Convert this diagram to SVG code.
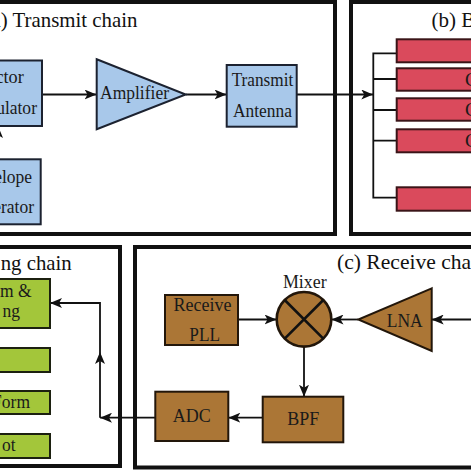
<svg xmlns="http://www.w3.org/2000/svg" width="471" height="471" viewBox="0 0 471 471">
<defs>
<marker id="ah" viewBox="0 0 12 10" refX="12" refY="5" markerWidth="12" markerHeight="10" markerUnits="userSpaceOnUse" orient="auto">
<path d="M0,0 L12,5 L0,10 L3,5 z" fill="#111"/>
</marker>
<style>
.panel{fill:#fff;stroke:#111;stroke-width:4}
.title{font-family:"Liberation Serif",serif;font-size:21px;fill:#111}
.lbl{font-family:"Liberation Serif",serif;font-size:19px;fill:#1a1a1a;text-anchor:middle}
.lble{font-family:"Liberation Serif",serif;font-size:19px;fill:#1a1a1a;text-anchor:end}
.lbls{font-family:"Liberation Serif",serif;font-size:19px;fill:#1a1a1a}
.blue{fill:#a8c8ea;stroke:#1c2230;stroke-width:2}
.red{fill:#da4a5c;stroke:#3a1418;stroke-width:2}
.green{fill:#a3c63a;stroke:#1c2010;stroke-width:2}
.brown{fill:#ab7636;stroke:#22160a;stroke-width:2}
.wire{fill:none;stroke:#111;stroke-width:1.8}
.arrow{fill:none;stroke:#111;stroke-width:1.8;marker-end:url(#ah)}
</style>
</defs>
<rect width="471" height="471" fill="#fff"/>
<g id="panel-a">
<rect class="panel" x="-20" y="2" width="355" height="232"/>
<text class="title" x="-15.5" y="27" textLength="153" lengthAdjust="spacingAndGlyphs">(a) Transmit chain</text>
</g>
<g id="panel-b">
<rect class="panel" x="351" y="2" width="200" height="232"/>
<text class="title" x="431.5" y="27">(b) B</text>
</g>
<g id="panel-d">
<rect class="panel" x="-20" y="247" width="140" height="219"/>
<text class="title" x="71.7" y="270" text-anchor="end" textLength="71" lengthAdjust="spacingAndGlyphs">ng chain</text>
</g>
<g id="panel-c">
<rect class="panel" x="135" y="247" width="400" height="220.5"/>
<text class="title" x="337" y="268.5" textLength="151" lengthAdjust="spacingAndGlyphs">(c) Receive chain</text>
</g>
<g id="connectors">
<line class="arrow" x1="-2" y1="159" x2="-2" y2="126"/>
<line class="arrow" x1="42" y1="94.5" x2="96.5" y2="94.5"/>
<line class="arrow" x1="185.7" y1="94.5" x2="226.5" y2="94.5"/>
<line class="arrow" x1="296.7" y1="94.5" x2="373.3" y2="94.5"/>
<path class="wire" d="M397,53.3 H373.3 V197.7 H397 M373.3,79 H397 M373.3,110 H397 M373.3,140.7 H397"/>
<line class="arrow" x1="238" y1="319.5" x2="276.5" y2="319.5"/>
<line class="arrow" x1="358.3" y1="319.5" x2="331.5" y2="319.5"/>
<line class="arrow" x1="480" y1="319.5" x2="431.7" y2="319.5"/>
<line class="arrow" x1="304" y1="347" x2="304" y2="396.7"/>
<line class="arrow" x1="262.7" y1="417.7" x2="228.3" y2="417.7"/>
<line class="arrow" x1="155.3" y1="417.7" x2="100" y2="417.7"/>
<line class="arrow" x1="100" y1="417.7" x2="100" y2="352"/>
<path class="arrow" d="M100,352 V303 H50"/>
</g>
<g id="vector-modulator">
<rect class="blue" x="-42" y="60.5" width="84" height="65.5"/>
<text class="lbl" x="0" y="83.3" textLength="47.6" lengthAdjust="spacingAndGlyphs">Vector</text>
<text class="lbl" x="0" y="114" textLength="73.9" lengthAdjust="spacingAndGlyphs">Modulator</text>
</g>
<g id="envelope-generator">
<rect class="blue" x="-43" y="159.3" width="83.7" height="65"/>
<text class="lbl" x="-1" y="182.7" textLength="66" lengthAdjust="spacingAndGlyphs">Envelope</text>
<text class="lbl" x="-1" y="212.7" textLength="70" lengthAdjust="spacingAndGlyphs">Generator</text>
</g>
<g id="amplifier">
<polygon class="blue" points="96.7,59.3 185.7,94.5 96.7,129.3"/>
<text class="lbl" x="134.5" y="99" textLength="69" lengthAdjust="spacingAndGlyphs">Amplifier</text>
</g>
<g id="transmit-antenna">
<rect class="blue" x="226.7" y="65" width="70" height="61.7"/>
<text class="lbl" x="262.5" y="86" textLength="61.6" lengthAdjust="spacingAndGlyphs">Transmit</text>
<text class="lbl" x="262.5" y="116.7" textLength="59" lengthAdjust="spacingAndGlyphs">Antenna</text>
</g>
<g id="bar1"><rect class="red" x="396.7" y="39.3" width="100" height="23"/></g>
<g id="bar2"><rect class="red" x="396.7" y="68.3" width="100" height="22.4"/><text class="lbls" x="465" y="85.5">C</text></g>
<g id="bar3"><rect class="red" x="396.7" y="98.3" width="100" height="22.4"/><text class="lbls" x="465" y="115.5">C</text></g>
<g id="bar4"><rect class="red" x="396.7" y="129.3" width="100" height="23"/><text class="lbls" x="465" y="146.5">C</text></g>
<g id="bar5"><rect class="red" x="396.7" y="187.3" width="100" height="23.4"/></g>
<g id="proc1">
<rect class="green" x="-60" y="279" width="110" height="49"/>
<text class="lble" x="31.7" y="296.7" textLength="31.6" lengthAdjust="spacingAndGlyphs">m &amp;</text>
<text class="lble" x="20" y="316.7" textLength="17.5" lengthAdjust="spacingAndGlyphs">ng</text>
</g>
<g id="proc2"><rect class="green" x="-60" y="348" width="110" height="24"/></g>
<g id="proc3">
<rect class="green" x="-60" y="391" width="110" height="23"/>
<text class="lble" x="30" y="407.7" textLength="37.9" lengthAdjust="spacingAndGlyphs">Form</text>
</g>
<g id="proc4">
<rect class="green" x="-60" y="434" width="110" height="24"/>
<text class="lble" x="15.7" y="451" textLength="13.6" lengthAdjust="spacingAndGlyphs">ot</text>
</g>
<g id="receive-pll">
<rect class="brown" x="165" y="295" width="73" height="50"/>
<text class="lbl" x="202.5" y="310.5" textLength="58" lengthAdjust="spacingAndGlyphs">Receive</text>
<text class="lbl" x="204.7" y="341" textLength="30.7" lengthAdjust="spacingAndGlyphs">PLL</text>
</g>
<g id="mixer">
<circle class="brown" cx="304" cy="319.3" r="27.3" style="stroke-width:2.6"/>
<path d="M284.7,300 L323.3,338.6 M323.3,300 L284.7,338.6" stroke="#111" stroke-width="2.6"/>
<text class="lbl" x="304.8" y="288.3" textLength="43.7" lengthAdjust="spacingAndGlyphs">Mixer</text>
</g>
<g id="lna">
<polygon class="brown" points="431.7,288.3 358.3,319.5 431.7,351"/>
<text class="lbl" x="404.7" y="326.5" textLength="36" lengthAdjust="spacingAndGlyphs">LNA</text>
</g>
<g id="bpf">
<rect class="brown" x="262.7" y="396.7" width="80.6" height="45.6"/>
<text class="lbl" x="303.3" y="425" textLength="32" lengthAdjust="spacingAndGlyphs">BPF</text>
</g>
<g id="adc">
<rect class="brown" x="155.3" y="391.7" width="73" height="49.3"/>
<text class="lbl" x="191.7" y="421.7" textLength="38" lengthAdjust="spacingAndGlyphs">ADC</text>
</g>
</svg>
